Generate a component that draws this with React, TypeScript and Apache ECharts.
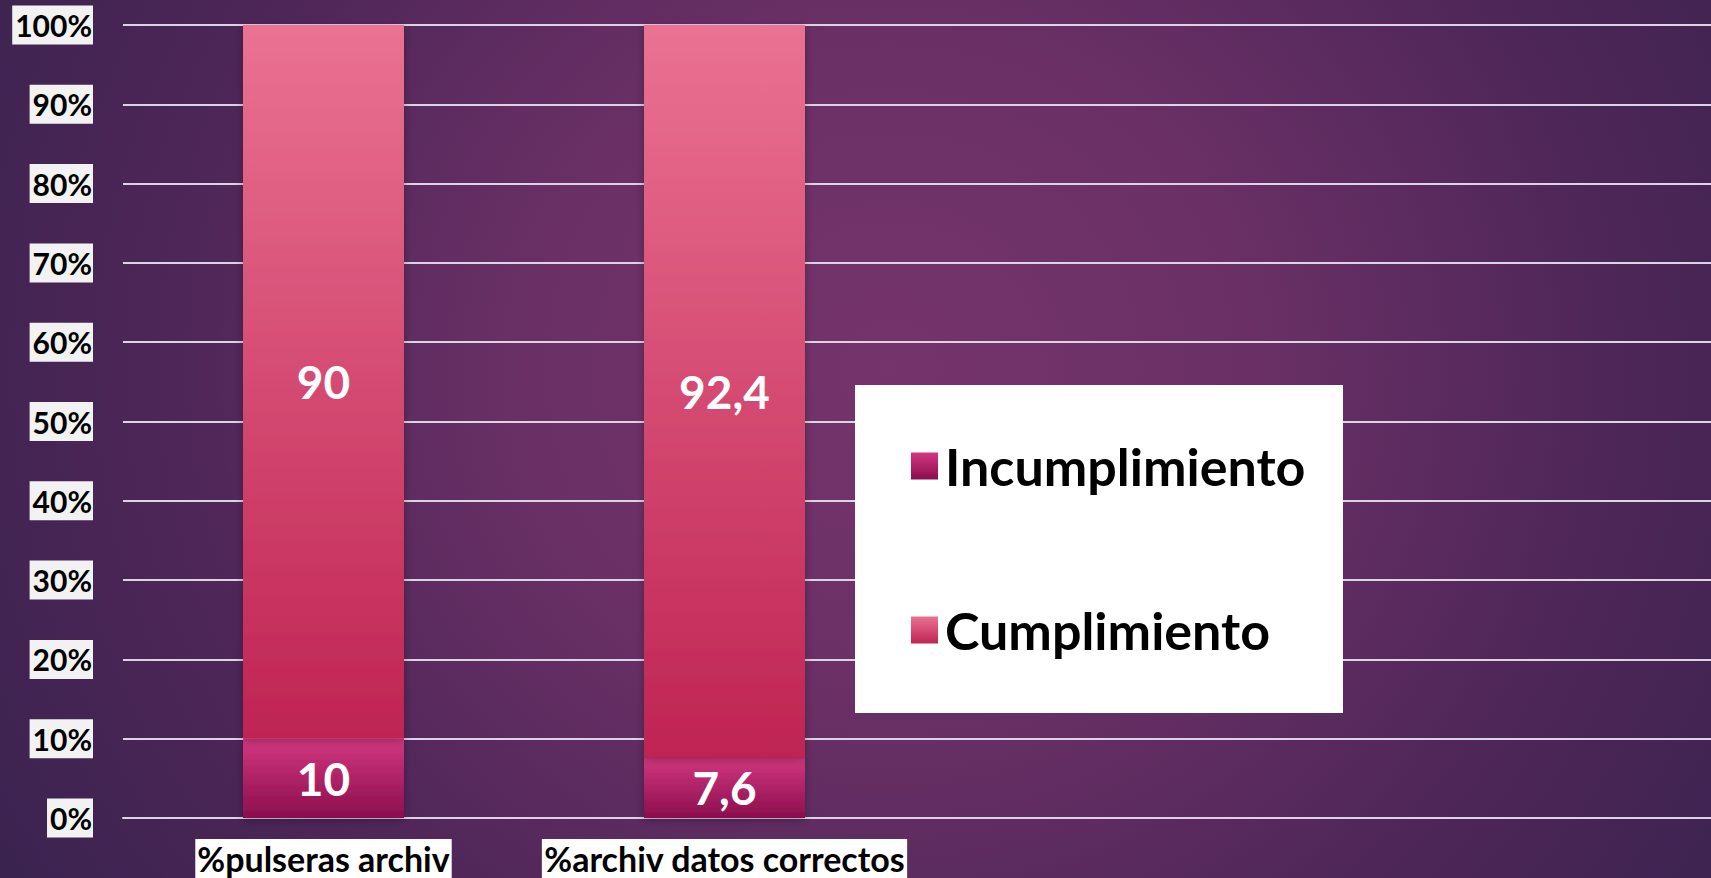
import React, { useEffect, useRef } from "react";
import * as echarts from "echarts";

const categories = ["%pulseras archiv", "%archiv datos correctos"];
const paddedCategories = [...categories, "", ""];
const seriesNames = ["Incumplimiento", "Cumplimiento"];
const incumplimiento = [10, 7.6];
const cumplimiento = [90, 92.4];
const yTicks = { min: 0, max: 100, interval: 10 };

const FONT = "Lato, 'DejaVu Sans', sans-serif";

const fmtNum = (v: number) => String(v).replace(".", ",");

export default function App() {
  const ref = useRef<HTMLDivElement>(null);
  useEffect(() => {
    if (!ref.current) return;
    const chart = echarts.init(ref.current, null, { renderer: "svg" });
    const incColor = new echarts.graphic.LinearGradient(0, 0, 0, 1, [
      { offset: 0, color: "#d2377f" },
      { offset: 1, color: "#8b0e4e" },
    ]);
    const cumColor = new echarts.graphic.LinearGradient(0, 0, 0, 1, [
      { offset: 0, color: "#ea7292" },
      { offset: 1, color: "#bf2453" },
    ]);
    const label = {
      show: true,
      position: "inside",
      color: "#ffffff",
      fontFamily: FONT,
      fontWeight: "bold",
      fontSize: 46,
      formatter: (p: any) => fmtNum(p.value),
    };
    chart.setOption({
      animation: false,
      backgroundColor: "transparent",
      grid: {
        left: 123,
        right: 0,
        top: 25,
        bottom: 60,
        containLabel: false,
        outerBoundsMode: "none",
      },
      graphic: [
        {
          type: "rect",
          z: 5,
          shape: { x: 855, y: 385, width: 488, height: 328 },
          style: { fill: "#ffffff" },
        },
      ],
      legend: {
        z: 10,
        orient: "vertical",
        left: 906,
        top: 435,
        itemWidth: 27,
        itemHeight: 27,
        itemGap: 112,
        data: seriesNames,
        icon: "rect",
        textStyle: {
          color: "#000000",
          fontFamily: FONT,
          fontWeight: "bold",
          fontSize: 52,
          padding: [0, 0, 0, 2],
        },
      },
      xAxis: {
        type: "category",
        data: paddedCategories,
        axisLine: { show: true, lineStyle: { color: "#ddd3e6", width: 2 } },
        axisTick: { show: false },
        axisLabel: {
          interval: 0,
          margin: 21,
          formatter: (v: string) => (v ? `{b|${v}}` : ""),
          rich: {
            b: {
              backgroundColor: "#ffffff",
              color: "#000000",
              fontFamily: FONT,
              fontWeight: "bold",
              fontSize: 34,
              padding: [2, 2, 6, 2],
            },
          },
        },
      },
      yAxis: {
        type: "value",
        ...yTicks,
        axisLine: { show: false },
        axisTick: { show: false },
        splitLine: { show: true, lineStyle: { color: "#ddd3e6", width: 2 } },
        axisLabel: {
          formatter: "{value}%",
          margin: 30,
          color: "#000000",
          backgroundColor: "#f2f2f2",
          padding: [5, 1, 4, 3],
          fontFamily: FONT,
          fontWeight: "bold",
          fontSize: 30,
        },
      },
      series: [
        {
          name: seriesNames[0],
          type: "bar",
          stack: "total",
          barWidth: 161,
          data: incumplimiento,
          itemStyle: {
            color: incColor,
            shadowColor: "rgba(0,0,0,0.3)",
            shadowBlur: 8,
            shadowOffsetY: 2,
          },
          label,
        },
        {
          name: seriesNames[1],
          type: "bar",
          stack: "total",
          barWidth: 161,
          data: cumplimiento,
          itemStyle: {
            color: cumColor,
            shadowColor: "rgba(0,0,0,0.3)",
            shadowBlur: 8,
            shadowOffsetY: 2,
          },
          label,
        },
      ],
    });
    return () => chart.dispose();
  }, []);
  return (
    <div
      style={{
        position: "absolute",
        left: 0,
        top: 0,
        width: 1711,
        height: 878,
        overflow: "hidden",
        background:
          "radial-gradient(ellipse 60% 110% at 52% 42%, #75346b 0%, #6a3066 35%, #4e2658 70%, #3b2350 100%)",
      }}
    >
      <div ref={ref} style={{ width: 1727, height: 878 }} />
    </div>
  );
}
